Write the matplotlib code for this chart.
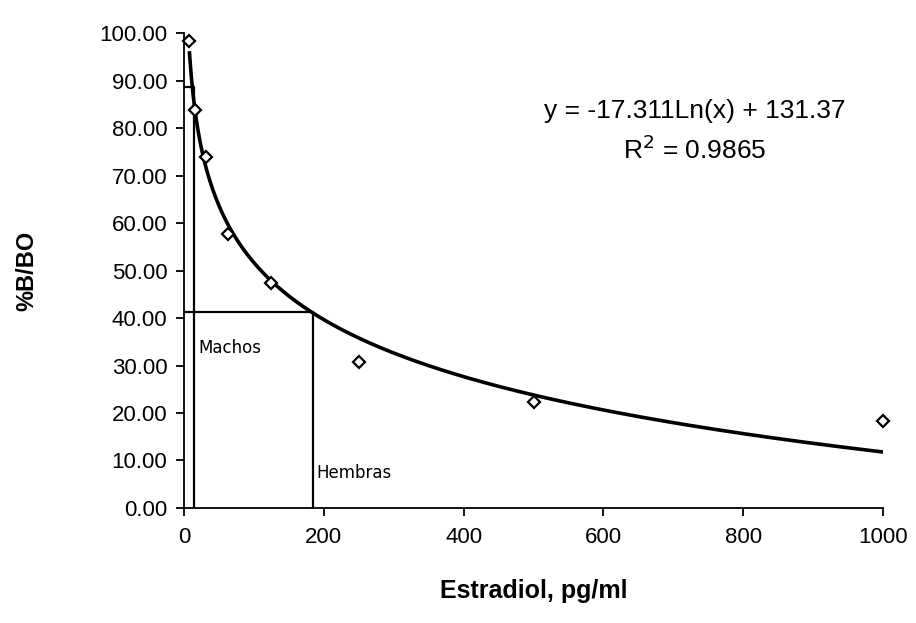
import numpy as np
import matplotlib
matplotlib.use("Agg")
import matplotlib.pyplot as plt

# standards (pg/ml) and %B/BO
conc = [7.8, 15.6, 31.25, 62.5, 125, 250, 500, 1000]
pct_b = [98.3, 83.8, 73.9, 57.7, 47.4, 30.7, 22.3, 18.3]

# log trendline shown on the chart
slope = -17.311
intercept = 131.37
r2 = 0.9865

# reading lines for the two groups
machos_x, machos_y = 14, 88.6
hembras_x, hembras_y = 184.5, 41.3

yticks = [0, 10, 20, 30, 40, 50, 60, 70, 80, 90, 100]
xticks = [0, 200, 400, 600, 800, 1000]

plt.rcParams['font.family'] = ['Liberation Sans', 'DejaVu Sans']

fig = plt.figure(figsize=(9.16, 6.23), dpi=100)
ax = fig.add_axes([0.2009, 0.1846, 0.7631, 0.7624])

xfit = np.linspace(conc[0], conc[-1], 400)
ax.plot(xfit, slope * np.log(xfit) + intercept, color='black', lw=2.6, zorder=3)

ax.plot(conc, pct_b, linestyle='none', marker='D', markersize=6.5, clip_on=False,
        markerfacecolor='white', markeredgecolor='black', markeredgewidth=1.6, zorder=4)

# Machos / Hembras reading lines
ax.plot([0, machos_x, machos_x], [machos_y, machos_y, 0], color='black', lw=1.6, zorder=2)
ax.plot([0, hembras_x, hembras_x], [hembras_y, hembras_y, 0], color='black', lw=1.6, zorder=2)
ax.text(20, 33.7, 'Machos', family='DejaVu Sans', fontsize=12, va='center', ha='left')
ax.text(190, 7.4, 'Hembras', family='DejaVu Sans', fontsize=12, va='center', ha='left')

ax.text(0.731, 0.835, 'y = %.3fLn(x) + %.2f' % (slope, intercept), transform=ax.transAxes,
        fontsize=19, ha='center', va='center')
ax.text(0.731, 0.755, 'R$^2$ = %.4f' % r2, transform=ax.transAxes,
        fontsize=19, ha='center', va='center')

ax.set_xlim(0, 1000)
ax.set_ylim(0, 100)
ax.set_xticks(xticks)
ax.set_yticks(yticks)
ax.set_yticklabels(['%.2f' % v for v in yticks])
ax.tick_params(axis='both', direction='out', length=6, width=1.3, labelsize=16, pad=6)
ax.tick_params(axis='x', pad=8)
for side in ['top', 'right']:
    ax.spines[side].set_visible(False)
for side in ['left', 'bottom']:
    ax.spines[side].set_linewidth(1.3)

ax.set_xlabel('Estradiol, pg/ml', fontsize=18, fontweight='bold', labelpad=22)
ax.set_ylabel('%B/BO', fontsize=17, fontweight='bold', labelpad=44)

fig.savefig('out.png', dpi=100)
